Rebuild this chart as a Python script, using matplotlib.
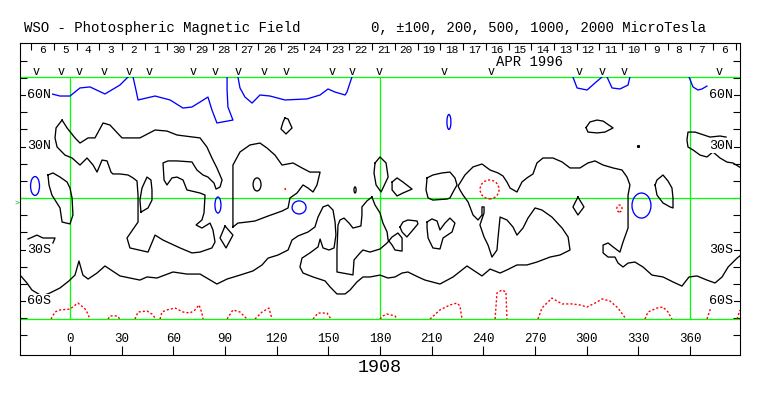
import matplotlib
matplotlib.use("Agg")
import matplotlib.pyplot as plt
from matplotlib.patches import Ellipse

FONT = "Liberation Mono"
GREEN = "#00ff00"
BLUE = "#0000ff"
RED = "#ff0000"

# ---------------- text / axis data ----------------
title = "WSO - Photospheric Magnetic Field"
levels_text = "0, \u00b1100, 200, 500, 1000, 2000 MicroTesla"
rotation_label = "1908"
month_label = "APR 1996"
month_lon = 267.0
lon_ticks = [0, 30, 60, 90, 120, 150, 180, 210, 240, 270, 300, 330, 360]
lat_label_vals = [60, 30, -30, -60]
lat_label_text_left = ["60N", "30N", "30S", "60S"]
lat_label_text_right = ["60N", "30N", "30S", "60S"]
side_tick_lats = [-80, -70, -60, -50, -40, -30, -20, -10, 0, 10, 20, 30, 40, 50, 60, 70, 80]
day_labels = ["6", "5", "4", "3", "2", "1", "30", "29", "28", "27", "26", "25", "24",
              "23", "22", "21", "20", "19", "18", "17", "16", "15", "14", "13", "12",
              "11", "10", "9", "8", "7", "6"]
first_day_edge = -22.6
deg_per_day = 13.2
obs_lon = [-19.7, -5.2, 5.2, 19.7, 34.3, 45.9, 71.4, 84.2, 97.6, 112.7, 125.4, 152.1,
           163.8, 179.4, 217.2, 244.5, 295.6, 308.9, 321.7, 376.9]

# ---------------- contour data (lon, lat) ----------------
# negative polarity (blue) lines near the north pole
blue_n1 = [(-10.5, 60.6), (-5.8, 59.4), (0, 59.4), (5.8, 64.1), (11.6, 64.7), (20.3, 60.6),
           (29.0, 65.8), (33.7, 70.5)]
blue_n2 = [(36.6, 70.5), (38.3, 62.9), (39.5, 57.1), (49.4, 59.4), (58.1, 57.1), (65.6, 52.4),
           (70.8, 53.0), (75.5, 55.9), (80.1, 58.8), (82.4, 51.3), (85.3, 43.7), (94.6, 45.4),
           (91.7, 53.0), (91.2, 62.9), (91.2, 70.5)]
blue_n3 = [(97.5, 70.5), (98.7, 64.1), (101.6, 58.8), (105.7, 55.3), (110.3, 60.0), (116.1, 59.4),
           (124.8, 57.1), (137.6, 57.7), (145.2, 60.0), (149.8, 63.5), (153.9, 61.7), (159.7, 60.0),
           (160.8, 61.7), (163.7, 70.5)]
blue_n4 = [(292.0, 70.5), (294.4, 64.1), (300.2, 62.9), (304.8, 67.0), (308.9, 70.5)]
blue_n5 = [(311.8, 70.5), (314.7, 64.1), (319.3, 63.5), (324.0, 65.8), (325.1, 70.5)]
blue_n6 = [(359.4, 70.5), (361.7, 64.7), (364.6, 62.9), (366.9, 63.5), (369.8, 65.2)]
# small closed negative regions: (lon, lat, width, height)
blue_ovals = [(-20.3, 7.0, 5.2, 11.0), (220.0, 44.3, 2.3, 8.7), (85.9, -4.1, 3.5, 9.3),
              (133.0, -5.5, 8.1, 7.6), (331.8, -4.4, 11.0, 14.6)]

# positive polarity (red dotted)
red_s1 = [(-11.0, -70.5), (-8.7, -66.4), (-5.8, -65.2), (0, -64.7), (4.6, -61.2), (7.5, -63.5),
          (9.3, -65.2), (11.6, -70.5)]
red_s2 = [(22.1, -70.5), (23.2, -68.7), (27.3, -68.7), (29.0, -70.5)]
red_s3 = [(37.7, -70.5), (39.5, -66.4), (44.7, -65.8), (47.6, -67.6), (49.9, -70.5)]
red_s4 = [(52.3, -70.5), (53.4, -66.4), (56.3, -65.2), (61.0, -64.1), (65.6, -66.4), (69.7, -67.0),
          (72.6, -65.2), (74.9, -62.3), (76.6, -67.0), (77.2, -70.5)]
red_s5 = [(91.2, -70.5), (94.6, -65.2), (98.7, -66.4), (102.8, -70.5)]
red_s6 = [(107.4, -70.5), (111.5, -66.4), (115.5, -64.1), (117.3, -70.5)]
red_s7 = [(141.1, -70.5), (144.0, -67.0), (149.2, -67.0), (151.5, -70.5)]
red_s8 = [(180.0, -70.5), (181.7, -68.7), (184.1, -67.6), (188.7, -68.7), (189.9, -70.5)]
red_s9 = [(209.0, -70.5), (214.8, -65.2), (220.6, -62.3), (224.7, -61.2), (226.4, -62.9),
          (227.6, -70.5)]
red_s10 = [(246.8, -70.5), (247.9, -55.3), (250.8, -53.6), (253.1, -54.7), (253.7, -70.5)]
red_s11 = [(271.7, -70.5), (274.0, -64.1), (279.8, -58.3), (285.7, -61.7), (291.5, -61.7),
           (296.1, -62.3), (300.2, -63.5), (306.0, -60.6), (308.9, -58.8), (313.5, -60.0),
           (318.2, -64.1), (322.8, -70.5)]
red_s12 = [(333.8, -70.5), (335.6, -66.4), (340.8, -64.1), (344.3, -63.5), (347.2, -66.4),
           (349.5, -70.5)]
red_s13 = [(369.8, -70.5), (371.6, -65.2), (373.4, -63.0)]
red_s14 = [(387.3, -70.5), (389.0, -65.2)]
red_n1 = [(124.8, 5.8), (125.4, 3.5)]
red_ovals = [(243.6, 5.0, 11.0, 11.0), (319.0, -6.1, 3.0, 4.0)]

# neutral lines (black)
black_a = [(-4.6, 45.4), (-8.1, 40.8), (-8.7, 35.0), (-7.5, 29.7), (-2.9, 25.0), (1.2, 23.3),
           (5.8, 19.2), (9.9, 23.3), (13.4, 19.2), (15.7, 15.1), (18.6, 22.1), (21.5, 21.6),
           (23.8, 15.1), (24.9, 14.0), (29.0, 14.0), (33.7, 13.4), (36.6, 11.7), (38.9, 9.9),
           (39.5, 1.7), (39.5, -14.0), (33.1, -23.3), (34.8, -29.1), (45.3, -31.5), (49.4, -21.6),
           (54.0, -24.5), (63.9, -29.1), (70.8, -32.0), (75.5, -31.5), (82.4, -29.1), (84.2, -25.6),
           (83.0, -18.6), (81.3, -14.6), (76.6, -17.5), (73.2, -15.7), (76.6, -12.8), (77.8, -8.7),
           (78.4, 1.7), (75.5, 2.9), (67.9, 4.7), (65.6, 10.5), (62.1, 12.2), (59.2, 11.7),
           (56.3, 7.6), (54.6, 10.5), (54.0, 20.4), (56.9, 21.6), (62.1, 21.6), (70.8, 21.0),
           (73.7, 16.3), (77.2, 13.4), (80.1, 12.2), (83.6, 8.7), (84.8, 5.2), (87.1, 6.4),
           (88.3, 10.5), (85.3, 17.5), (82.4, 23.3), (79.5, 29.7), (75.5, 35.0), (71.4, 35.5),
           (62.1, 36.7), (56.3, 39.0), (49.4, 39.6), (40.6, 35.0), (30.2, 35.0), (23.2, 42.5),
           (19.2, 43.7), (14.5, 35.0), (10.5, 35.0), (5.8, 32.0), (2.9, 35.0), (-1.7, 40.8),
           (-4.6, 45.4)]
black_leaf = [(41.2, -8.2), (40.6, -1.2), (41.8, 5.8), (44.7, 12.2), (47.0, 10.5), (47.6, 4.7),
              (47.6, -1.2), (45.3, -5.8), (41.2, -8.2)]
black_bulb = [(-12.8, 13.4), (-9.9, 14.6), (-5.8, 12.2), (-1.7, 9.3), (0, 5.8), (1.2, 0),
              (1.7, -9.9), (0, -15.1), (-4.6, -14.0), (-5.8, -5.8), (-10.5, 1.7), (-12.2, 7.6),
              (-12.8, 13.4)]
black_d = [(94.6, -16.9), (94.6, 1.7), (94.6, 19.2), (98.7, 26.8), (104.5, 30.9), (110.3, 32.0),
           (114.4, 29.1), (119.0, 25.0), (123.1, 19.2), (129.5, 20.4), (134.7, 17.5), (139.3, 15.1),
           (145.2, 15.1), (143.4, 7.6), (141.1, 3.5), (138.2, 5.8), (135.3, 7.6), (131.8, 2.9),
           (127.7, 0), (126.6, -5.8), (123.1, -7.6), (115.0, -10.5), (107.4, -13.4), (102.8, -14.0),
           (97.5, -14.6), (94.6, -16.9)]
black_diamond1 = [(90.0, -16.3), (94.6, -21.6), (90.6, -29.1), (87.1, -23.3), (90.0, -16.3)]
black_squiggle = [(-24.4, -23.9), (-19.2, -21.6), (-15.7, -23.3), (-11.6, -23.3), (-8.7, -23.3),
                  (-9.9, -26.2)]
black_k8 = [(124.8, 46.6), (126.6, 46.0), (128.9, 40.8), (125.4, 37.3), (122.5, 40.2),
            (123.7, 44.3), (124.8, 46.6)]
black_leaf180 = [(177.1, 20.4), (180.0, 23.9), (183.5, 20.4), (184.7, 12.2), (181.7, 5.8),
                 (180.6, 3.5), (177.7, 7.6), (176.5, 14.6), (177.1, 20.4)]
black_triangle = [(187.0, 9.3), (189.9, 11.7), (193.3, 9.3), (198.6, 5.2), (193.3, 2.9),
                  (189.9, 1.2), (187.0, 4.7), (187.0, 9.3)]
black_p = [(207.3, 11.7), (210.7, 13.4), (216.0, 14.6), (220.6, 15.1), (223.5, 11.7), (224.7, 7.6),
           (222.4, 3.5), (220.6, 0), (218.9, -0.6), (210.7, -1.2), (207.9, 0), (206.7, 4.7),
           (207.3, 11.7)]
black_heart = [(207.3, -14.0), (210.1, -12.2), (213.1, -13.4), (214.8, -18.6), (217.7, -14.6),
               (220.6, -11.7), (223.5, -14.6), (221.8, -19.8), (216.6, -23.3), (214.8, -29.7),
               (210.7, -29.1), (207.9, -23.3), (207.3, -17.5), (207.3, -14.0)]
black_pillar = [(175.3, 0.6), (172.4, -1.7), (169.5, -5.2), (169.5, -9.9), (168.9, -16.3),
                (164.3, -17.5), (162.0, -14.6), (159.1, -11.7), (156.8, -12.8), (155.6, -15.7),
                (155.0, -30.3), (155.0, -43.1), (164.3, -44.8), (164.9, -36.1), (168.4, -32.0),
                (170.1, -30.3), (174.2, -31.5), (180.0, -29.7), (184.1, -26.2), (187.0, -22.7),
                (190.4, -20.4), (192.8, -23.3), (192.8, -30.9), (188.7, -30.3), (187.0, -27.4),
                (184.7, -24.5), (184.1, -19.8), (181.7, -14.6), (180.0, -8.7), (177.1, -4.1),
                (175.3, 0.6)]
black_small_s = [(191.6, -16.9), (193.3, -14.0), (196.2, -12.8), (201.5, -13.4), (202.0, -15.1),
                 (199.1, -18.6), (195.6, -22.7), (192.8, -19.8), (191.6, -16.9)]
black_east = [(380.9, 35.5), (377.4, 36.1), (371.6, 35.5), (362.9, 38.4), (358.8, 38.4),
              (358.2, 33.8), (358.8, 29.7), (361.7, 28.0), (365.8, 25.0), (369.8, 23.9),
              (373.3, 26.8), (377.4, 23.3), (381.5, 20.9), (384.9, 20.4), (389.6, 17.5)]
black_oval30 = [(299.6, 41.0), (301.9, 44.3), (306.0, 45.4), (309.5, 44.8), (315.3, 40.8),
                (310.6, 38.4), (306.0, 37.9), (300.7, 38.4), (299.6, 41.0)]
black_k19 = [(339.7, 7.6), (340.8, 10.5), (344.3, 13.4), (347.2, 9.9), (349.5, 5.8), (350.1, 0),
             (350.1, -5.8), (348.4, -5.2), (344.3, -2.9), (340.8, 1.7), (339.7, 7.6)]
black_diamond2 = [(294.9, 0.6), (298.4, -5.2), (294.9, -9.9), (292.0, -5.2), (294.9, 0.6)]
black_ovals = [(108.6, 7.9, 4.6, 7.6), (165.5, 4.7, 1.2, 3.5)]
black_dots = [(329.8, 30.3)]
black_main = [(-29.0, -44.9), (-25.0, -49.5), (-22.1, -53.6), (-16.3, -57.1), (-11.6, -55.3),
              (-5.8, -52.4), (-0.6, -48.3), (2.9, -44.9), (5.2, -36.7), (7.5, -44.9), (10.5, -47.2),
              (15.7, -43.7), (20.3, -39.6), (29.0, -45.4), (34.8, -46.6), (40.6, -47.8),
              (44.7, -46.0), (50.5, -46.6), (59.8, -43.1), (67.9, -44.3), (75.5, -44.3),
              (85.3, -50.1), (91.2, -47.2), (98.7, -44.9), (106.2, -42.5), (111.5, -39.0),
              (115.0, -35.0), (120.8, -33.2), (126.6, -30.3), (128.9, -24.5), (132.4, -22.1),
              (138.2, -19.8), (142.2, -16.9), (144.0, -11.1), (146.9, -5.2), (149.8, -4.1),
              (152.7, -7.0), (153.9, -14.0), (154.4, -21.6), (153.3, -29.1), (150.4, -30.3),
              (146.9, -29.1), (145.2, -23.9), (144.0, -28.5), (139.3, -32.0), (134.7, -35.0),
              (133.5, -40.2), (135.3, -43.7), (141.1, -46.0), (148.1, -48.3), (151.0, -51.8),
              (155.0, -55.9), (159.7, -55.9), (162.6, -53.6), (166.6, -48.9), (170.1, -46.0),
              (174.2, -46.0), (180.0, -44.9), (184.6, -46.6), (188.7, -46.0), (192.8, -43.7),
              (196.2, -43.1), (202.1, -46.0), (206.1, -47.8), (214.8, -50.1), (222.4, -46.0),
              (230.5, -39.6), (239.2, -45.4), (243.9, -41.4), (249.7, -43.7), (253.7, -41.9),
              (259.5, -39.0), (265.3, -39.0), (271.1, -37.3), (278.7, -34.4), (284.5, -33.2),
              (290.3, -30.3), (289.2, -22.7), (285.7, -17.5), (279.8, -11.1), (274.0, -7.0),
              (270.0, -5.8), (265.9, -11.7), (263.0, -17.5), (259.5, -21.6), (257.2, -16.9),
              (253.7, -12.8), (249.7, -11.1), (248.5, -23.3), (247.9, -30.3), (245.0, -34.4),
              (242.7, -27.4), (240.4, -22.7), (238.0, -15.7), (240.4, -8.7), (240.4, -5.2),
              (239.2, -5.2), (239.2, -9.9), (236.9, -12.8), (234.0, -9.9), (231.1, -2.3),
              (228.2, 1.7), (226.4, 4.7), (225.3, 7.0), (226.4, 8.7), (229.3, 13.4), (234.0, 18.1),
              (239.2, 19.8), (243.9, 16.3), (248.5, 14.6), (251.4, 12.8), (253.7, 9.3),
              (255.5, 5.8), (259.5, 3.5), (262.4, 9.3), (265.3, 11.7), (268.8, 14.0), (271.1, 20.4),
              (274.6, 23.3), (280.4, 23.3), (285.7, 21.0), (290.3, 17.5), (296.1, 17.5),
              (300.7, 20.4), (304.8, 21.6), (309.5, 19.2), (315.3, 17.5), (320.5, 16.3),
              (323.4, 12.2), (325.1, 7.6), (324.0, 1.7), (324.0, -9.9), (324.0, -17.5),
              (321.1, -25.6), (319.3, -31.5), (315.3, -28.5), (312.4, -26.2), (309.5, -27.4),
              (309.5, -32.0), (312.4, -34.4), (316.4, -34.4), (318.2, -37.9), (321.1, -40.2),
              (324.0, -37.9), (328.0, -37.3), (332.7, -40.2), (337.9, -44.9), (344.3, -46.0),
              (350.1, -48.9), (355.3, -51.3), (359.4, -46.0), (364.0, -45.4), (369.8, -47.8),
              (374.5, -49.5), (378.6, -46.0), (382.1, -40.2), (387.3, -35.0), (389.6, -33.2)]

blue_lines = [blue_n1, blue_n2, blue_n3, blue_n4, blue_n5, blue_n6]
red_lines = [red_s1, red_s2, red_s3, red_s4, red_s5, red_s6, red_s7, red_s8, red_s9, red_s10,
             red_s11, red_s12, red_s13, red_s14, red_n1]
black_lines = [black_a, black_leaf, black_bulb, black_d, black_diamond1, black_squiggle,
               black_k8, black_leaf180, black_triangle, black_p, black_heart, black_pillar,
               black_small_s, black_east, black_oval30, black_k19, black_diamond2, black_main]

# ---------------- figure ----------------
W, H = 763, 396
fig = plt.figure(figsize=(W / 100, H / 100), dpi=100)
fig.patch.set_facecolor("white")

LON_MIN, LON_MAX = -29.03, 389.0
LAT_PLOT = 70.48
axf = fig.add_axes([20 / W, 41 / H, 720 / W, 312 / H])
axf.set_xlim(LON_MIN, LON_MAX)
axf.set_ylim(-91.45, 90.29)
axf.set_xticks([])
axf.set_yticks([])
for s in axf.spines.values():
    s.set_linewidth(0.8)
    s.set_color("black")

ax = fig.add_axes([20 / W, 77 / H, 720 / W, 242 / H], facecolor="none")
ax.set_xlim(LON_MIN, LON_MAX)
ax.set_ylim(-LAT_PLOT, LAT_PLOT)
ax.axis("off")

# side ticks
tick_len = 4.06
axf.hlines(side_tick_lats, LON_MIN, LON_MIN + tick_len, colors="black", lw=0.8)
axf.hlines(side_tick_lats, LON_MAX - tick_len, LON_MAX, colors="black", lw=0.8)

# green grid lines
axf.hlines([LAT_PLOT, 0, -LAT_PLOT], LON_MIN, LON_MAX, colors=GREEN, lw=0.9)
axf.vlines([0, 180, 360], -LAT_PLOT, LAT_PLOT, colors=GREEN, lw=0.9)

# bottom longitude ticks and labels
axf.vlines(lon_ticks, -91.45, -86.2, colors="black", lw=0.8)
for lon in lon_ticks:
    axf.text(lon, -82.4, str(lon), ha="center", va="center", fontsize=9, family=FONT)

# day strip
for k in range(len(day_labels) + 1):
    edge = first_day_edge + deg_per_day * k
    if edge < LON_MAX - 1:
        axf.vlines(edge, 86.2, 90.29, colors="black", lw=0.8)
for k, lab in enumerate(day_labels):
    c = first_day_edge + deg_per_day * (k + 0.5)
    axf.text(c, 86.1, lab, ha="center", va="center", fontsize=8, family=FONT)
axf.text(month_lon, 79.2, month_label, ha="center", va="center", fontsize=10, family=FONT)
for lon in obs_lon:
    axf.text(lon, 73.2, "v", ha="center", va="center", fontsize=8.5, family=FONT)

# contours
for pts in black_lines:
    xs, ys = zip(*pts)
    ax.plot(xs, ys, color="black", lw=0.95)
for pts in blue_lines:
    xs, ys = zip(*pts)
    ax.plot(xs, ys, color=BLUE, lw=0.95)
for pts in red_lines:
    xs, ys = zip(*pts)
    ax.plot(xs, ys, color=RED, lw=1.0, linestyle=(0, (1.5, 1.5)))
for (x, y, w, h) in blue_ovals:
    ax.add_patch(Ellipse((x, y), w, h, fill=False, ec=BLUE, lw=0.95))
for (x, y, w, h) in red_ovals:
    ax.add_patch(Ellipse((x, y), w, h, fill=False, ec=RED, lw=1.0, linestyle=(0, (1.5, 1.5))))
for (x, y, w, h) in black_ovals:
    ax.add_patch(Ellipse((x, y), w, h, fill=False, ec="black", lw=0.95))
for (x, y) in black_dots:
    ax.plot([x], [y], marker="s", ms=1.2, color="black")

# latitude labels
box = dict(boxstyle="square,pad=0.05", fc="white", ec="none")
for lat, lt, rt in zip(lat_label_vals, lat_label_text_left, lat_label_text_right):
    ax.text(-25.0, lat, lt, ha="left", va="center", fontsize=9.6, family=FONT,
            bbox=box, zorder=10, clip_on=False)
    ax.text(385.0, lat, rt, ha="right", va="center", fontsize=9.6, family=FONT,
            bbox=box, zorder=10, clip_on=False)

# equator marker on left
fig.text(17 / W, 1 - 203 / H, ">", ha="center", va="center", fontsize=6, color="#00b000",
         family=FONT)

# titles
fig.text(24 / W, 1 - 32 / H, title, ha="left", va="baseline", fontsize=10.1, family=FONT)
fig.text(371 / W, 1 - 32 / H, levels_text, ha="left", va="baseline", fontsize=10.1, family=FONT)
fig.text(380 / W, 1 - 367 / H, rotation_label, ha="center", va="center", fontsize=13.2,
         family=FONT)

fig.savefig("out.png", dpi=100, facecolor="white")
